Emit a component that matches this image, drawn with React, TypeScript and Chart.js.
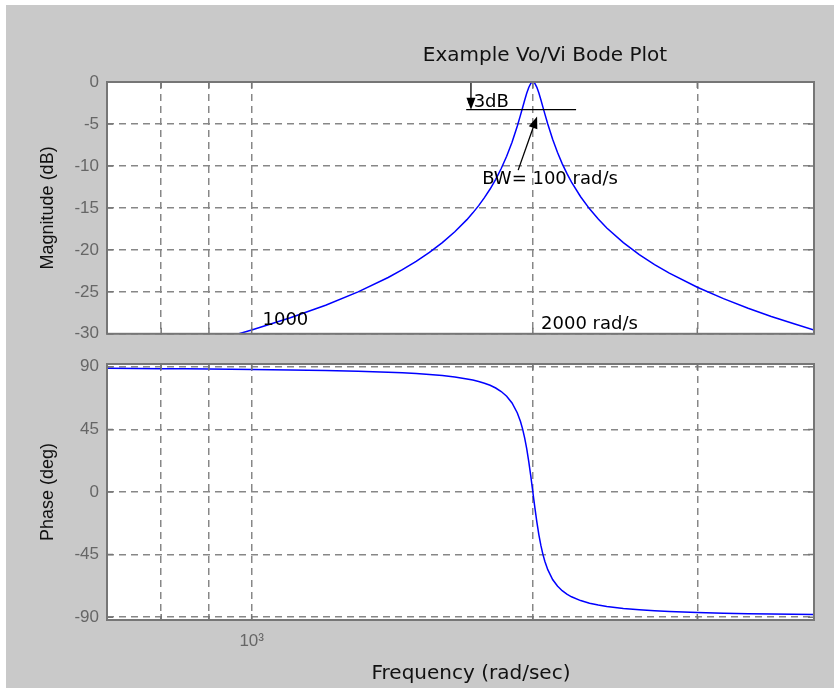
import React, { useEffect, useRef } from "react";
import { Chart, registerables } from "chart.js";

Chart.register(...registerables);

// ---- data ----
const frequency = [700, 750, 800, 850, 900, 950, 1000, 1100, 1200, 1300, 1400, 1450, 1500, 1550, 1600, 1650, 1700, 1725, 1750, 1775, 1800, 1825, 1850, 1875, 1900, 1925, 1940, 1950, 1960, 1970, 1980, 1990, 1995, 2000, 2005, 2010, 2020, 2030, 2040, 2050, 2060, 2075, 2100, 2125, 2150, 2175, 2200, 2250, 2300, 2350, 2400, 2500, 2600, 2700, 2800, 3000, 3200, 3400, 3600, 3800, 4000];
const magnitudeDb = [-34.01, -33.23, -32.47, -31.73, -30.99, -30.27, -29.55, -28.09, -26.59, -25.01, -23.29, -22.36, -21.37, -20.3, -19.14, -17.85, -16.4, -15.59, -14.73, -13.78, -12.75, -11.6, -10.31, -8.85, -7.17, -5.24, -3.95, -3.07, -2.18, -1.35, -0.65, -0.17, -0.04, 0, -0.04, -0.17, -0.64, -1.32, -2.12, -2.96, -3.8, -5.01, -6.82, -8.38, -9.72, -10.89, -11.93, -13.67, -15.11, -16.33, -17.39, -19.14, -20.56, -21.75, -22.77, -24.45, -25.81, -26.95, -27.93, -28.78, -29.55];
const phaseDeg = [88.86, 88.75, 88.64, 88.51, 88.38, 88.24, 88.09, 87.74, 87.32, 86.78, 86.07, 85.63, 85.1, 84.46, 83.66, 82.64, 81.29, 80.44, 79.43, 78.2, 76.68, 74.75, 72.24, 68.84, 64.03, 56.82, 50.63, 45.36, 38.94, 31.16, 21.9, 11.34, 5.72, 0, -5.7, -11.28, -21.71, -30.78, -38.38, -44.65, -49.78, -55.83, -62.88, -67.6, -70.94, -73.42, -75.32, -78.04, -79.89, -81.23, -82.24, -83.66, -84.62, -85.31, -85.83, -86.57, -87.06, -87.42, -87.7, -87.92, -88.09];

const xGridTicks = [800, 900, 1000, 2000, 3000];
const xTickLabels: Record<number, string> = { 1000: "10\u00B3" };
const magnitudeTicks = [0, -5, -10, -15, -20, -25, -30];
const phaseTicks = [90, 45, 0, -45, -90];

const chartTitle = "Example Vo/Vi Bode Plot";
const magAxisTitle = "Magnitude (dB)";
const phaseAxisTitle = "Phase (deg)";
const freqAxisTitle = "Frequency (rad/sec)";

// annotations (data coordinates: rad/s, dB)
const halfPowerLine = { f1: 1697, f2: 2225, db: -3.3 };
const halfPowerArrow = { f: 1717, from: 0, to: -3.3 };
const halfPowerText = { text: "-3dB", f: 1701, db: -2.95 };
const bwArrow = { f1: 1929, db1: -10.5, f2: 2021, db2: -4.1 };
const bwText = { text: "BW= 100 rad/s", f: 1765, db: -12.2 };
const lowText = { text: "1000", f: 1027, db: -28.9 };
const highText = { text: "2000 rad/s", f: 2041, db: -29.4 };

// ---- styles ----
const SANS = '"Liberation Sans", Arial, sans-serif';
const DV = '"DejaVu Sans", sans-serif';
const GRID = "#878787";
const BOX = "#767676";
const TICKC = "#666666";
const W = 834;
const TOP_H = 352;
const BOT_TOP = 340;
const BOT_H = 688 - BOT_TOP;

function arrow(ctx: CanvasRenderingContext2D, x1: number, y1: number, x2: number, y2: number) {
  const ang = Math.atan2(y2 - y1, x2 - x1);
  const len = 12;
  const hw = 4.5;
  ctx.beginPath();
  ctx.moveTo(x1, y1);
  ctx.lineTo(x2 - Math.cos(ang) * len * 0.8, y2 - Math.sin(ang) * len * 0.8);
  ctx.stroke();
  ctx.beginPath();
  ctx.moveTo(x2, y2);
  ctx.lineTo(x2 - Math.cos(ang) * len - Math.sin(ang) * hw, y2 - Math.sin(ang) * len + Math.cos(ang) * hw);
  ctx.lineTo(x2 - Math.cos(ang) * len + Math.sin(ang) * hw, y2 - Math.sin(ang) * len - Math.cos(ang) * hw);
  ctx.closePath();
  ctx.fill();
}

const panelPlugin = {
  id: "panel",
  beforeDraw(chart: any) {
    const { ctx, chartArea: a } = chart;
    ctx.save();
    ctx.fillStyle = "#ffffff";
    ctx.fillRect(a.left, a.top, a.right - a.left, a.bottom - a.top);
    ctx.restore();
  },
  afterDraw(chart: any) {
    const { ctx, chartArea: a, scales } = chart;
    ctx.save();
    ctx.strokeStyle = BOX;
    ctx.lineWidth = 1.5;
    const tl = 6;
    ctx.beginPath();
    xGridTicks.forEach((v) => {
      const px = scales.x.getPixelForValue(v);
      ctx.moveTo(px, a.bottom);
      ctx.lineTo(px, a.bottom - tl);
      ctx.moveTo(px, a.top);
      ctx.lineTo(px, a.top + tl);
    });
    (scales.y.ticks || []).forEach((t: any) => {
      const py = scales.y.getPixelForValue(t.value);
      ctx.moveTo(a.left, py);
      ctx.lineTo(a.left + tl, py);
      ctx.moveTo(a.right, py);
      ctx.lineTo(a.right - tl, py);
    });
    ctx.stroke();
    ctx.lineWidth = 2;
    ctx.strokeRect(a.left, a.top, a.right - a.left, a.bottom - a.top);
    ctx.restore();
  },
};

const magnitudeAnnotations = {
  id: "magAnnot",
  afterDatasetsDraw(chart: any) {
    const { ctx, scales } = chart;
    const px = (f: number) => scales.x.getPixelForValue(f);
    const py = (d: number) => scales.y.getPixelForValue(d);
    ctx.save();
    ctx.strokeStyle = "#000";
    ctx.fillStyle = "#000";
    ctx.lineWidth = 1.3;
    ctx.font = `18px ${DV}`;
    ctx.textAlign = "left";
    ctx.textBaseline = "alphabetic";
    [halfPowerText, bwText, lowText, highText].forEach((t) => {
      ctx.fillText(t.text, px(t.f), py(t.db));
    });
    ctx.beginPath();
    ctx.moveTo(px(halfPowerLine.f1), py(halfPowerLine.db));
    ctx.lineTo(px(halfPowerLine.f2), py(halfPowerLine.db));
    ctx.stroke();
    arrow(ctx, px(halfPowerArrow.f), py(halfPowerArrow.from), px(halfPowerArrow.f), py(halfPowerArrow.to));
    arrow(ctx, px(bwArrow.f1), py(bwArrow.db1), px(bwArrow.f2), py(bwArrow.db2));
    ctx.restore();
  },
  afterDraw(chart: any) {
    const { ctx } = chart;
    ctx.save();
    ctx.fillStyle = "#111";
    ctx.font = `20px ${DV}`;
    ctx.textAlign = "center";
    ctx.textBaseline = "alphabetic";
    ctx.fillText(chartTitle, 545, 61);
    ctx.restore();
  },
};

const freqTitlePlugin = {
  id: "freqTitle",
  afterDraw(chart: any) {
    const { ctx } = chart;
    ctx.save();
    ctx.fillStyle = "#111";
    ctx.font = `20px ${DV}`;
    ctx.textAlign = "center";
    ctx.textBaseline = "alphabetic";
    ctx.fillText(freqAxisTitle, 471, 679 - BOT_TOP);
    ctx.restore();
  },
};

function xScale(showLabels: boolean, height: number) {
  return {
    type: "logarithmic",
    min: 700,
    max: 4000,
    afterBuildTicks: (s: any) => {
      s.ticks = xGridTicks.map((v) => ({ value: v }));
    },
    afterFit: (s: any) => {
      s.height = height;
    },
    ticks: {
      display: showLabels,
      autoSkip: false,
      maxRotation: 0,
      padding: 11,
      color: TICKC,
      font: { family: SANS, size: 17 },
      callback: (v: any) => xTickLabels[Number(v)] || "",
    },
    grid: { color: GRID, lineWidth: 1.5, drawTicks: false },
    border: { display: false, dash: [7, 5] },
  };
}

function yScale(min: number, max: number, ticks: number[], title: string) {
  return {
    type: "linear",
    min,
    max,
    afterBuildTicks: (s: any) => {
      s.ticks = ticks.map((v) => ({ value: v }));
    },
    afterFit: (s: any) => {
      s.width = 107;
    },
    ticks: {
      padding: 8,
      color: TICKC,
      font: { family: SANS, size: 17 },
      callback: (v: any) => String(v),
    },
    grid: { color: GRID, lineWidth: 1.5, drawTicks: false },
    border: { display: false, dash: [7, 5] },
    title: {
      display: true,
      text: title,
      color: "#111",
      font: { family: SANS, size: 18 },
      padding: { top: 37, bottom: 0 },
    },
  };
}

export default function App() {
  const topRef = useRef<HTMLCanvasElement>(null);
  const botRef = useRef<HTMLCanvasElement>(null);

  useEffect(() => {
    const line = (values: number[]) => ({
      data: frequency.map((f, i) => ({ x: f, y: values[i] })),
      borderColor: "#0000ff",
      borderWidth: 1.5,
      pointRadius: 0,
      tension: 0,
      fill: false,
    });
    const common = {
      responsive: false,
      animation: false,
      events: [],
      plugins: { legend: { display: false }, tooltip: { enabled: false }, title: { display: false } },
    };
    const top = new Chart(topRef.current as HTMLCanvasElement, {
      type: "line",
      data: { datasets: [line(magnitudeDb)] },
      options: {
        ...common,
        layout: { padding: { top: 82, right: 20, bottom: 0, left: 0 } },
        scales: {
          x: xScale(false, TOP_H - 338),
          y: yScale(-30, 0, magnitudeTicks, magAxisTitle),
        },
      } as any,
      plugins: [panelPlugin, magnitudeAnnotations],
    });
    const bot = new Chart(botRef.current as HTMLCanvasElement, {
      type: "line",
      data: { datasets: [line(phaseDeg)] },
      options: {
        ...common,
        layout: { padding: { top: 364 - BOT_TOP, right: 20, bottom: 0, left: 0 } },
        scales: {
          x: xScale(true, BOT_H - (620 - BOT_TOP)),
          y: yScale(-92, 92, phaseTicks, phaseAxisTitle),
        },
      } as any,
      plugins: [panelPlugin, freqTitlePlugin],
    });
    return () => {
      top.destroy();
      bot.destroy();
    };
  }, []);

  return (
    <div style={{ position: "fixed", left: 0, top: 0, width: W, height: 688, background: "#ffffff", overflow: "hidden" }}>
      <div style={{ position: "absolute", left: 6, top: 5, width: W - 6, height: 683, background: "#c9c9c9" }} />
      <canvas ref={topRef} width={W} height={TOP_H} style={{ position: "absolute", left: 0, top: 0 }} />
      <canvas ref={botRef} width={W} height={BOT_H} style={{ position: "absolute", left: 0, top: BOT_TOP }} />
    </div>
  );
}
